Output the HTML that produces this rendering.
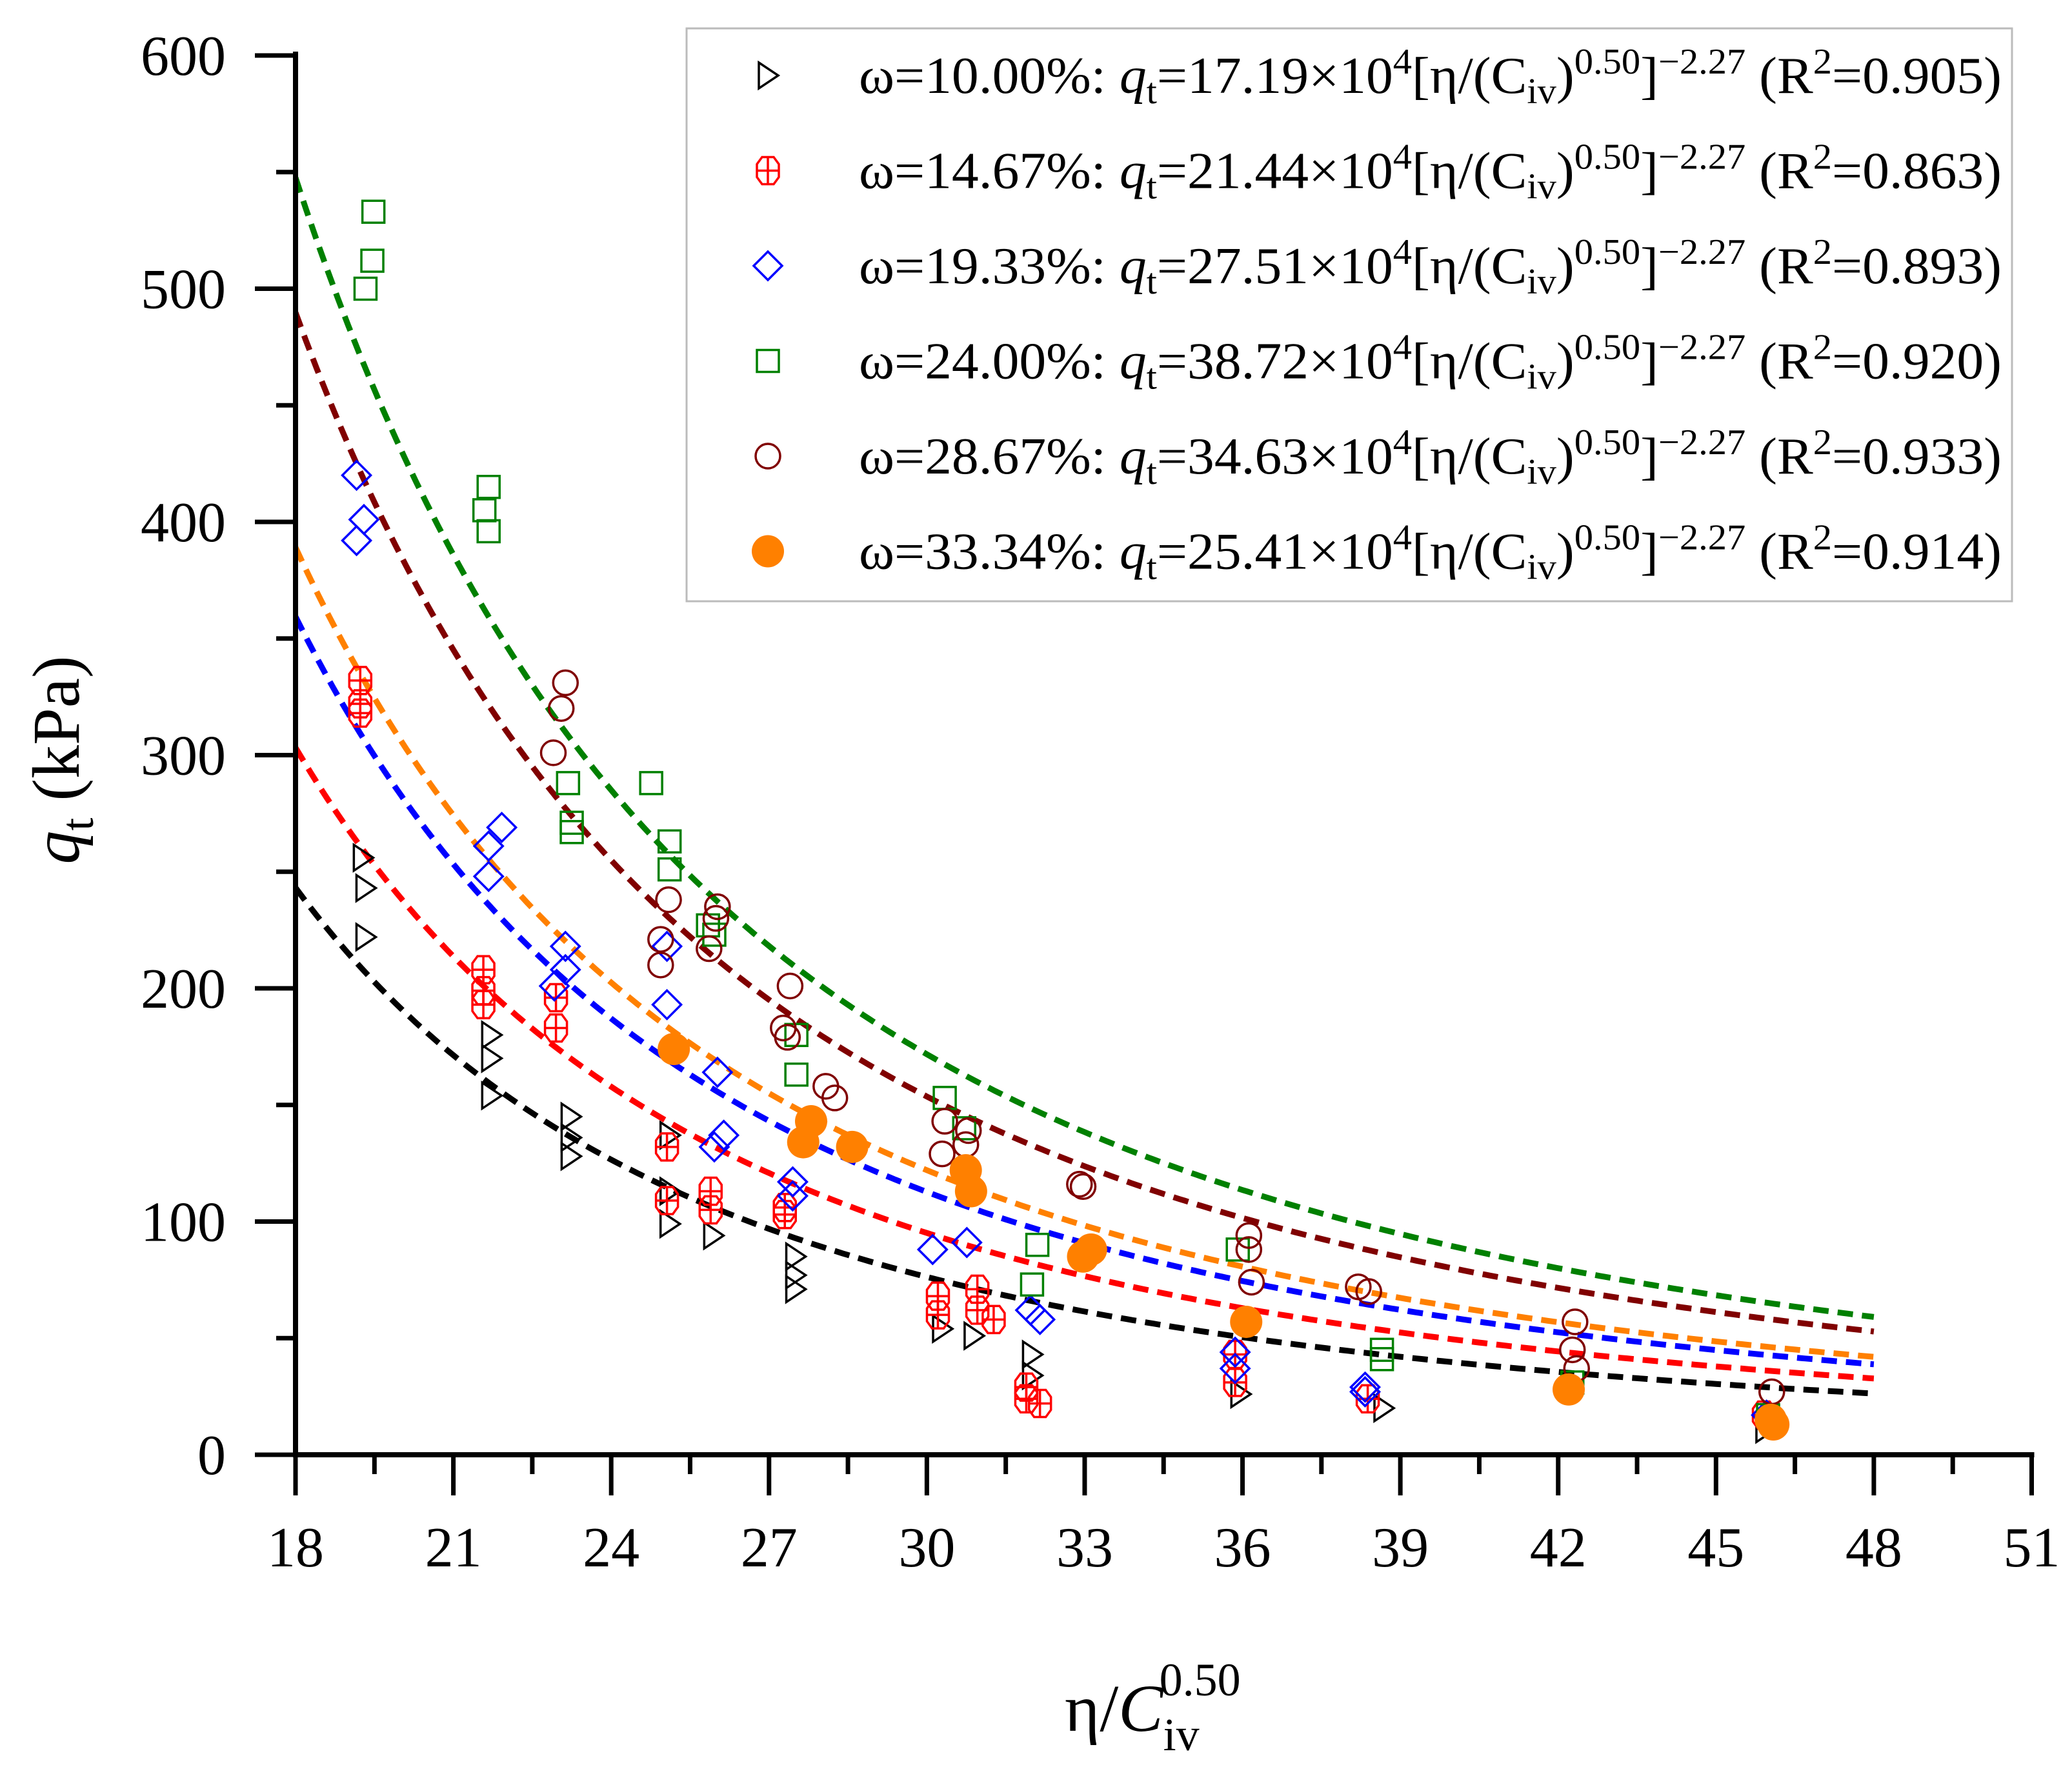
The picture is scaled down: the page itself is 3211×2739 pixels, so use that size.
<!DOCTYPE html>
<html><head><meta charset="utf-8"><style>
html,body{margin:0;padding:0;background:#fff}
svg{display:block;font-family:"Liberation Serif",serif}
</style></head><body>
<svg id="chart" xmlns="http://www.w3.org/2000/svg" width="3211" height="2739" viewBox="0 0 3211 2739">
<rect width="3211" height="2739" fill="#fff"/>
<g id="curves"></g>
<g id="points"></g>
<g id="axes"></g>
<g id="legend"></g>
<text transform="translate(122,1178) rotate(-90)" text-anchor="middle" font-size="104"><tspan font-style="italic">q</tspan><tspan dy="22" font-size="72">t</tspan><tspan dy="-22"> (kPa)</tspan></text>
<text x="1650" y="2683" font-size="104">η/<tspan font-style="italic">C</tspan><tspan dy="30" font-size="72">iv</tspan><tspan dx="-62" dy="-85" font-size="72">0.50</tspan></text>
</svg>
<script>
const NS="http://www.w3.org/2000/svg";
const xTicks=[18,21,24,27,30,33,36,39,42,45,48,51];
const yTicks=[0,100,200,300,400,500,600];
const seriesNames=["w10","w1467","w1933","w24","w2867","w3334"];
const seriesColors=["#000000","#ff0000","#0000ff","#008000","#800000","#ff8000"];
const curveColors=["#000000","#ff0000","#ff8000","#008000","#800000","#0000ff"];
const coefA=[17.19,21.44,27.51,38.72,34.63,25.41];
const expB=-2.27;
const legendW=["10.00","14.67","19.33","24.00","28.67","33.34"];
const legendR2=["0.905","0.863","0.893","0.920","0.933","0.914"];
const x10=[19.28,19.33,19.33,21.72,21.72,21.72,23.23,23.23,23.23,25.11,25.11,25.11,25.94,27.5,27.5,27.5,30.29,30.89,32.0,32.0,35.96,38.68,45.94];
const y10=[256,243,222,180,170,154,145,136,128,137,113,99,94,85,77,71,54,51,43,34,26,20,11];
const x1467=[19.23,19.23,19.23,21.57,21.57,21.57,22.95,22.95,25.06,25.06,25.89,25.89,27.3,27.3,30.21,30.21,30.96,30.96,31.27,31.89,31.89,32.15,35.86,35.86,38.38,45.91];
const y1467=[332,322,318,208,199,193,196,183,132,109,113,105,106,103,68,60,71,62,58,29,24,22,43,31,24,17];
const x1933=[19.16,19.3,19.16,21.67,21.67,21.92,23.13,23.13,22.92,25.06,25.06,26.02,26.14,25.96,27.45,27.45,30.11,30.76,31.97,32.15,35.86,35.86,38.33,38.33,45.96];
const y1933=[420,401,392,261,248,269,218,208,201,218,193,164,137,132,117,111,88,91,62,58,44,37,29,27,17];
const x24=[19.48,19.46,19.33,21.67,21.59,21.67,23.18,23.25,23.25,24.76,25.11,25.11,25.84,25.96,27.52,27.52,30.34,30.71,32.10,32.0,35.91,38.65,38.65,42.27,45.99];
const y24=[533,512,500,415,405,396,288,271,267,288,263,251,227,223,180,163,153,140,90,73,88,45,41,31,17];
const x2867=[23.13,23.05,22.9,25.09,24.94,24.94,25.86,26.02,25.99,27.4,27.27,27.35,28.08,28.25,30.34,30.29,30.74,30.79,32.9,32.97,36.12,36.12,36.17,38.2,38.4,42.32,42.27,42.35,46.06];
const y2867=[331,320,301,238,221,210,217,235,230,201,183,179,158,153,143,129,133,139,116,115,94,88,74,72,70,57,45,37,27];
const x3334=[25.19,27.8,27.65,28.58,30.74,30.84,32.97,33.12,36.07,42.2,46.04,46.09];
const y3334=[174,143,134,132,122,113,85,88,57,28,15,13];
const seriesX=[x10,x1467,x1933,x24,x2867,x3334];
const seriesY=[y10,y1467,y1933,y24,y2867,y3334];

const X0=458,XS=81.53,Y0=2255,YS=3.615;
function sx(v){return X0+(v-18)*XS;}
function sy(v){return Y0-v*YS;}
function mk(tag,attrs,parent){const e=document.createElementNS(NS,tag);for(const k in attrs)e.setAttribute(k,attrs[k]);parent.appendChild(e);return e;}

const axes=document.getElementById('axes');
mk('line',{x1:X0,y1:80,x2:X0,y2:Y0+4,stroke:'#000','stroke-width':8},axes);
mk('line',{x1:X0-4,y1:Y0,x2:sx(51)+4,y2:Y0,stroke:'#000','stroke-width':8},axes);
for(let v=0;v<=600;v+=50){
  const major=v%100===0;
  const t=mk('line',{x1:X0-(major?63:30),y1:sy(v),x2:X0,y2:sy(v),stroke:'#000','stroke-width':7},axes);
  
  
}
yTicks.forEach(v=>{
  const t=mk('text',{x:350,y:sy(v)+30,'text-anchor':'end','font-size':88},axes);
  t.textContent=v;
  
  
});
for(let v=18;v<=51.01;v+=1.5){
  const major=Math.abs((v-18)%3)<0.01;
  const t=mk('line',{x1:sx(v),y1:Y0,x2:sx(v),y2:Y0+(major?63:30),stroke:'#000','stroke-width':7},axes);
  
  
}
xTicks.forEach(v=>{
  const t=mk('text',{x:sx(v),y:2428,'text-anchor':'middle','font-size':88},axes);
  t.textContent=v;
  
  
});

const curves=document.getElementById('curves');
coefA.forEach((a,i)=>{
  let d='';
  for(let v=18;v<=48.001;v+=0.1){const q=a*1e4*Math.pow(v,expB);d+=(d?'L':'M')+sx(v).toFixed(1)+','+sy(q).toFixed(1);}
  const p=mk('path',{d:d,fill:'none',stroke:curveColors[i],'stroke-width':9,'stroke-dasharray':'24 14'},curves);
  
  
});

function marker(i,x,y,parent){
  const c=seriesColors[i];const g=mk('g',{},parent);
  if(i===0){mk('path',{d:`M${x-14},${y-20}L${x+16},${y}L${x-14},${y+20}Z`,fill:'none',stroke:c,'stroke-width':3.5},g);}
  else if(i===1){mk('path',{d:`M${x-9},${y-21}L${x+9},${y-21}L${x+17},${y-10}L${x+17},${y+10}L${x+9},${y+21}L${x-9},${y+21}L${x-17},${y+10}L${x-17},${y-10}Z`,fill:'none',stroke:c,'stroke-width':3.5},g);
    mk('path',{d:`M${x-17},${y}H${x+17}M${x},${y-21}V${y+21}`,stroke:c,'stroke-width':3.5},g);}
  else if(i===2){mk('path',{d:`M${x},${y-22}L${x+22},${y}L${x},${y+22}L${x-22},${y}Z`,fill:'none',stroke:c,'stroke-width':3.5},g);}
  else if(i===3){mk('rect',{x:x-17,y:y-17,width:34,height:34,fill:'none',stroke:c,'stroke-width':3.5},g);}
  else if(i===4){mk('circle',{cx:x,cy:y,r:19,fill:'none',stroke:c,'stroke-width':3.5},g);}
  else {mk('circle',{cx:x,cy:y,r:25,fill:c},g);}
  return g;
}
const pts=document.getElementById('points');
seriesX.forEach((xs,i)=>{
  xs.forEach((xv,j)=>{
    const g=marker(i,sx(xv),sy(seriesY[i][j]),pts);
    
    
  });
});

const leg=document.getElementById('legend');
const box=mk('rect',{x:1064,y:44,width:2054,height:888,fill:'#fff',stroke:'#bbb','stroke-width':3},leg);


legendW.forEach((w,i)=>{
  const cy=117+i*147.5;
  const g=mk('g',{},leg);
  
  
  marker(i,1190,cy,g);
  const t=mk('text',{x:1331,y:cy+27,'font-size':80,textLength:1771,lengthAdjust:'spacingAndGlyphs'},g);
  t.innerHTML=`ω=${w}%: <tspan font-style="italic">q</tspan><tspan dy="16" font-size="56">t</tspan><tspan dy="-16">=${coefA[i].toFixed(2)}×10</tspan><tspan dy="-30" font-size="56">4</tspan><tspan dy="30">[η/(C</tspan><tspan dy="16" font-size="56">iv</tspan><tspan dy="-16">)</tspan><tspan dy="-30" font-size="56">0.50</tspan><tspan dy="30">]</tspan><tspan dy="-30" font-size="56">−2.27</tspan><tspan dy="30"> (R</tspan><tspan dy="-30" font-size="56">2</tspan><tspan dy="30">=${legendR2[i]})</tspan>`;
});
</script>
</body></html>
